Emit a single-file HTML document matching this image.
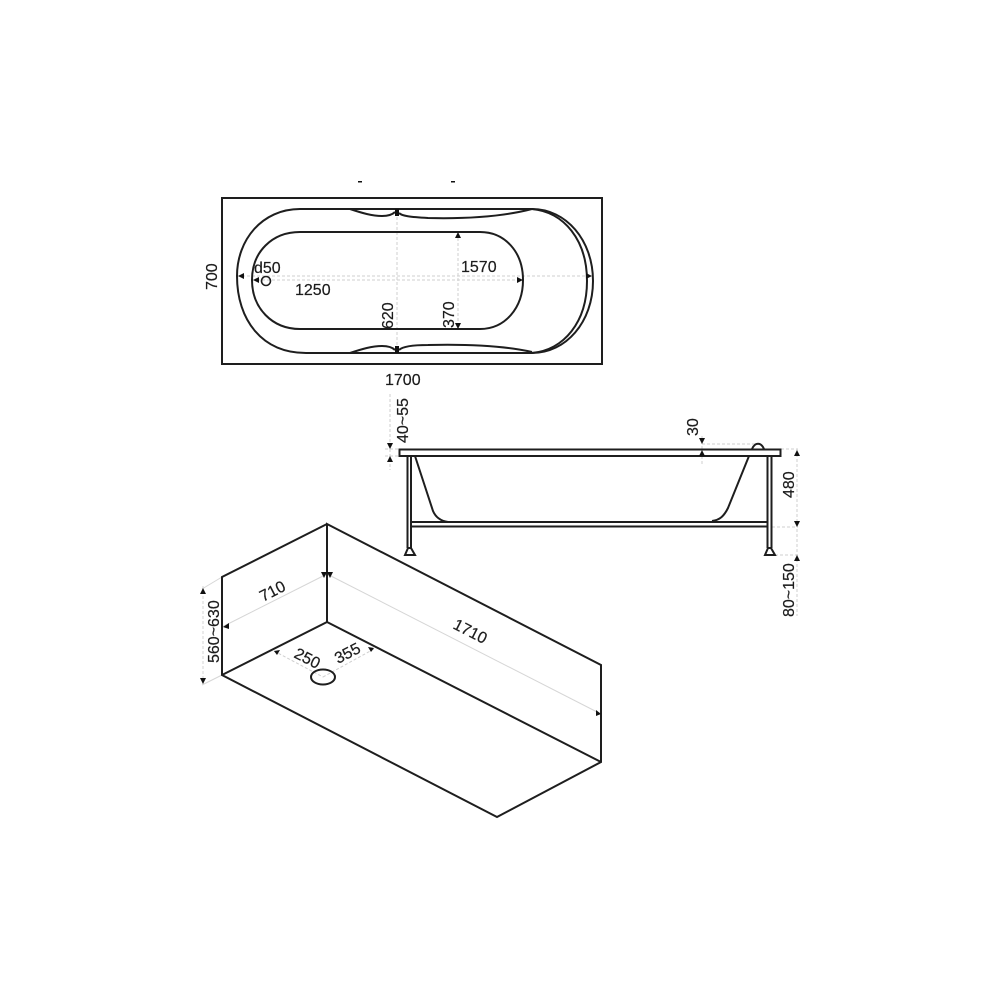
<!DOCTYPE html>
<html><head><meta charset="utf-8"><style>html,body{margin:0;padding:0;background:#fff}svg{display:block;filter:blur(0.35px)}text{font-family:"Liberation Sans",sans-serif;font-size:16px;fill:#1c1c1c;stroke:#1c1c1c;stroke-width:0.2px}</style></head><body>
<svg width="1000" height="1000" viewBox="0 0 1000 1000" xmlns="http://www.w3.org/2000/svg">
<g fill="none" stroke="#cfcfcf" stroke-width="1" stroke-dasharray="3 2">
<path d="M237 276H592M252 280H523M397 212V350M458 233V329"/>
<path d="M390 394V470M385 449H399M385 456H399M702 436V466M702 444H755M781 449H798M797 449V616M772 527H798M775 555H798"/>
<path d="M274 651L323 677M323 677L374 649"/>
</g>
<g fill="none" stroke="#d6d6d6" stroke-width="1">
<path d="M327 574L601 714M222 627L327 574M222 577L202 589M222 675L202 685"/>
<path d="M203 586V686" stroke-dasharray="3 2"/>
</g>
<g fill="none" stroke="#1e1e1e" stroke-width="2">
<rect x="222" y="198" width="380" height="166"/>
<path d="M397 209H300C262 209 237 240 237 276C237 320 262 353 306 353H397"/>
<path d="M350 209C362 213 372 216 382 216C388 216 392 215 395 212M399 213C402 216 410 217 428 218C470 219 505 216 532 209"/>
<path d="M350 353C362 349 372 346 382 346C388 346 392 347 395 350M399 350C402 347 410 345 428 345C470 344 505 346 532 352"/>
<path d="M397 209H532C566 209 593 240 593 281C593 322 566 353 532 353H397"/>
<path d="M532 209C564 212 587 240 587 281C587 322 564 350 532 353"/>
<path d="M480 232H300C272 232 252 252 252 280C252 308 272 329 300 329H480C505 329 523 308 523 280C523 252 505 232 480 232Z"/>
<circle cx="266" cy="281" r="4.500" stroke-width="1.600"/>
<rect x="399.500" y="449.500" width="381" height="6.500"/>
<path d="M407.500 456V548M411 456V548M767.500 456V548M771.500 456V548"/>
<path d="M411 522H768M411 526.500H768"/>
<path d="M415 456L433 511C436 518 441 521 448 522M749 456L728 508C724 516 720 520 712 521"/>
<path d="M752 449C755 442 761 442 764 449"/>
<path d="M405 555L408 548H411L415 555ZM765 555L768 548H771L775 555Z"/>
<path d="M327 524L222 577V675L497 817L601 762V665L327 524V622L222 675M327 622L601 762"/>
<ellipse cx="323" cy="677" rx="12" ry="7.500"/>
</g>
<g fill="#111">
<rect x="358" y="181" width="4" height="1.500"/><rect x="451" y="181" width="4" height="1.500"/>
<rect x="395" y="209" width="4" height="7"/><rect x="395" y="346" width="4" height="7"/>
<path d="M238 276l6-3v6ZM253 280l6-3v6ZM458 232l-3 6h6ZM458 329l-3-6h6ZM523 280l-6-3v6ZM592 276l-6-3v6Z"/>
<path d="M390 449l-3-6h6ZM390 456l-3 6h6ZM702 444l-3-6h6ZM702 450l-3 6h6ZM797 450l-3 6h6ZM797 527l-3-6h6ZM797 555l-3 6h6Z"/>
<path d="M324 578l-3-6h6ZM330 578l-3-6h6ZM223 627l6-4v6ZM601 714l-5-4v6ZM274 651l6-1-3 5ZM374 648l-6-1 3 5ZM203 588l-3 6h6ZM203 684l-3-6h6Z"/>
</g>
<text x="254" y="273">d50</text>
<text x="295" y="295">1250</text>
<text x="461" y="272">1570</text>
<text x="385" y="385">1700</text>
<text transform="translate(217,290) rotate(-90)">700</text>
<text transform="translate(393,329) rotate(-90)">620</text>
<text transform="translate(454,328) rotate(-90)">370</text>
<text transform="translate(408,443) rotate(-90)">40~55</text>
<text transform="translate(698,436) rotate(-90)">30</text>
<text transform="translate(794,498) rotate(-90)">480</text>
<text transform="translate(794,617) rotate(-90)">80~150</text>
<text transform="translate(219,663) rotate(-90)">560~630</text>
<text transform="translate(263,602) rotate(-27)">710</text>
<text transform="translate(452,628) rotate(27)">1710</text>
<text transform="translate(293,657) rotate(27)">250</text>
<text transform="translate(338,664) rotate(-27)">355</text>
</svg>
</body></html>
